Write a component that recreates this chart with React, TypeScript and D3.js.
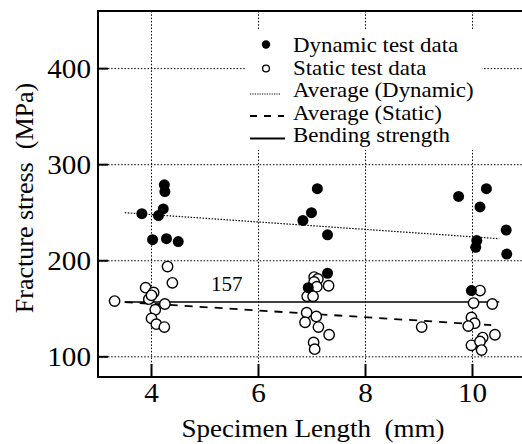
import React, { useRef, useEffect } from "react";
import { select, scaleLinear, line } from "d3";

// values
const dynamicLength = [3.82, 4.02, 4.13, 4.22, 4.24, 4.25, 4.28, 4.5, 6.83, 6.99, 7.1, 7.29, 7.29, 6.93, 9.74, 10.14, 10.26, 10.63, 10.64, 10.08, 10.06, 9.98];
const dynamicStress = [249, 222, 247, 254, 279, 272, 223, 220, 242, 250, 275, 227, 187, 172, 267, 256, 275, 232, 207, 221, 214, 169];

const staticLength = [3.31, 3.89, 4.04, 3.95, 4.0, 4.25, 4.07, 4.0, 4.09, 4.24, 4.3, 4.39, 7.04, 7.11, 7.04, 7.31, 7.09, 6.91, 7.02, 6.9, 7.08, 6.87, 7.12, 7.32, 7.03, 7.05, 9.05, 10.14, 10.02, 10.37, 9.98, 10.04, 9.92, 10.19, 10.42, 9.98, 10.14, 10.17];
const staticStress = [158, 172, 167, 160, 164, 155, 149, 140, 134, 131, 194, 177, 183, 181, 178, 174, 173, 163, 163, 146, 142, 136, 131, 123, 115, 108, 131, 169, 156, 155, 141, 135, 132, 120, 123, 112, 116, 107];

const avgDynamic = [[3.5, 250], [10.5, 223]];
const avgStatic = [[3.5, 157], [10.35, 133]];
const bending = [[3.5, 157], [10.5, 157]];

const xTicks = [4, 6, 8, 10];
const yTicks = [100, 200, 300, 400];
const legendLabels = ["Dynamic test data", "Static test data", "Average (Dynamic)", "Average (Static)", "Bending strength"];

const FONT = "Liberation Serif, Times New Roman, DejaVu Serif, serif";

function App() {
    const svgRef = useRef(null);

    useEffect(() => {
        const svg = select(svgRef.current);
        svg.selectAll("*").remove();

        const x = scaleLinear().domain([3, 11]).range([98, 526]);
        const y = scaleLinear().domain([79, 460]).range([377, 11]);

        // grid
        svg.selectAll(".vgrid").data(xTicks).join("line")
            .attr("x1", d => x(d)).attr("x2", d => x(d))
            .attr("y1", 11).attr("y2", 377)
            .attr("stroke", "#000").attr("stroke-width", 1).attr("stroke-dasharray", "1.5,1.8");
        svg.selectAll(".hgrid").data(yTicks).join("line")
            .attr("x1", 98).attr("x2", 522)
            .attr("y1", d => y(d)).attr("y2", d => y(d))
            .attr("stroke", "#000").attr("stroke-width", 1).attr("stroke-dasharray", "1.5,1.8");

        // legend box hides the grid
        const lg = svg.append("g");
        lg.append("rect").attr("x", 246).attr("y", 30).attr("width", 236).attr("height", 120).attr("fill", "#fff");

        const path = line().x(d => x(d[0])).y(d => y(d[1]));
        svg.append("path").attr("d", path(avgDynamic)).attr("fill", "none")
            .attr("stroke", "#000").attr("stroke-width", 1.2).attr("stroke-dasharray", "1.5,1.5");
        svg.append("path").attr("d", path(avgStatic)).attr("fill", "none")
            .attr("stroke", "#000").attr("stroke-width", 1.8).attr("stroke-dasharray", "8,7");
        svg.append("path").attr("d", path(bending)).attr("fill", "none")
            .attr("stroke", "#000").attr("stroke-width", 1.6);

        // points
        svg.selectAll(".stat").data(staticLength).join("circle")
            .attr("cx", d => x(d)).attr("cy", (d, i) => y(staticStress[i])).attr("r", 5.2)
            .attr("fill", "#fff").attr("stroke", "#000").attr("stroke-width", 1.4);
        svg.selectAll(".dyn").data(dynamicLength).join("circle")
            .attr("cx", d => x(d)).attr("cy", (d, i) => y(dynamicStress[i])).attr("r", 5.5)
            .attr("fill", "#000");

        // frame
        svg.append("path").attr("d", "M524,11 H98 V377 H524")
            .attr("fill", "none").attr("stroke", "#000").attr("stroke-width", 2);

        // ticks
        svg.selectAll(".yt").data(yTicks).join("line")
            .attr("x1", 98).attr("x2", 108).attr("y1", d => y(d)).attr("y2", d => y(d))
            .attr("stroke", "#000").attr("stroke-width", 2);
        svg.selectAll(".xt").data(xTicks).join("line")
            .attr("x1", d => x(d)).attr("x2", d => x(d)).attr("y1", 377).attr("y2", 364)
            .attr("stroke", "#000").attr("stroke-width", 2);

        const txt = svg.append("g").style("font-family", FONT).attr("fill", "#000");

        // the scanned type is a bit wider than Liberation Serif, so stretch it a little
        txt.selectAll(".yl").data(yTicks).join("text")
            .attr("transform", d => `translate(91,${y(d) + 9}) scale(1.08,1)`)
            .attr("text-anchor", "end").style("font-size", "27px")
            .text(d => d);
        txt.selectAll(".xl").data(xTicks).join("text")
            .attr("transform", d => `translate(${x(d)},402) scale(1.08,1)`)
            .attr("text-anchor", "middle").style("font-size", "27px")
            .text(d => d);

        // titles
        txt.append("text").attr("transform", "translate(313,437) scale(1.08,1)")
            .attr("text-anchor", "middle").style("font-size", "25px")
            .style("white-space", "pre").text("Specimen Length  (mm)");
        txt.append("text").attr("transform", "translate(33,198) rotate(-90) scale(1.04,1)")
            .attr("text-anchor", "middle").style("font-size", "25px")
            .style("white-space", "pre").text("Fracture stress  (MPa)");

        txt.append("text").attr("x", 211).attr("y", 291)
            .style("font-size", "21px").text("157");

        // legend
        const rowY = [44.5, 68.5, 94, 116, 138.5];
        lg.append("circle").attr("cx", 266).attr("cy", rowY[0]).attr("r", 4.2).attr("fill", "#000");
        lg.append("circle").attr("cx", 266).attr("cy", rowY[1]).attr("r", 3.4)
            .attr("fill", "#fff").attr("stroke", "#000").attr("stroke-width", 1.3);
        lg.append("line").attr("x1", 250).attr("x2", 281).attr("y1", rowY[2]).attr("y2", rowY[2])
            .attr("stroke", "#000").attr("stroke-width", 1.2).attr("stroke-dasharray", "1.2,1.2");
        lg.append("line").attr("x1", 250).attr("x2", 284).attr("y1", rowY[3]).attr("y2", rowY[3])
            .attr("stroke", "#000").attr("stroke-width", 1.8).attr("stroke-dasharray", "7,7");
        lg.append("line").attr("x1", 250).attr("x2", 285).attr("y1", rowY[4]).attr("y2", rowY[4])
            .attr("stroke", "#000").attr("stroke-width", 1.8);
        txt.selectAll(".lt").data(legendLabels).join("text")
            .attr("transform", (d, i) => `translate(293,${[52, 74.5, 97, 119.5, 142][i]}) scale(1.09,1)`)
            .style("font-size", "21px")
            .text(d => d);
    }, []);

    return (
        <svg ref={svgRef} width={522} height={444}
            style={{ position: "absolute", left: 0, top: 0, background: "#fff" }}></svg>
    );
}

export default App;
